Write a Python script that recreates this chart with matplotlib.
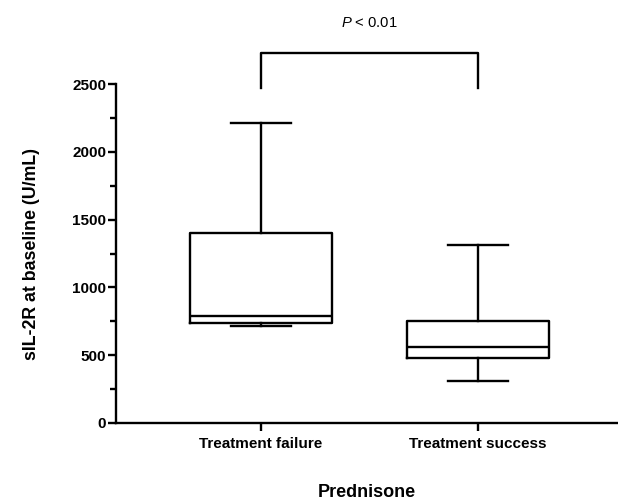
import matplotlib.pyplot as plt
from matplotlib.ticker import MultipleLocator

plt.rcParams['font.family'] = ['Liberation Sans', 'DejaVu Sans']
plt.rcParams['mathtext.fontset'] = 'custom'
plt.rcParams['mathtext.it'] = 'Liberation Sans:italic'
plt.rcParams['mathtext.rm'] = 'Liberation Sans'

groups = ["Treatment failure", "Treatment success"]
whisker_low = [718, 312]
q1 = [735, 479]
median = [789, 562]
q3 = [1398, 752]
whisker_high = [2215, 1310]

stats = []
for i, g in enumerate(groups):
    stats.append({"label": g, "whislo": whisker_low[i], "q1": q1[i], "med": median[i],
                  "q3": q3[i], "whishi": whisker_high[i], "fliers": []})

fig = plt.figure(figsize=(6.18, 5.01), dpi=100)
ax = fig.add_axes([0.1877, 0.1557, 0.8123, 0.6766])

lw = 1.7
ax.bxp(stats, positions=[0, 1], widths=0.655, showfliers=False,
       boxprops=dict(color="black", linewidth=lw),
       medianprops=dict(color="black", linewidth=lw),
       whiskerprops=dict(color="black", linewidth=lw),
       capprops=dict(color="black", linewidth=lw),
       capwidths=0.275)

ax.set_xlim(-0.668, 1.645)
ax.set_ylim(0, 2500)
ax.yaxis.set_major_locator(MultipleLocator(500))
ax.yaxis.set_minor_locator(MultipleLocator(250))
ax.spines[["top", "right"]].set_visible(False)
ax.spines[["left", "bottom"]].set_linewidth(lw)
ax.tick_params(axis="y", which="major", width=lw, length=6, labelsize=11, pad=1)
ax.tick_params(axis="x", which="major", width=lw, length=6, labelsize=11, pad=4)
ax.tick_params(axis="y", which="minor", width=lw, length=4)
for lab in ax.get_xticklabels() + ax.get_yticklabels():
    lab.set_fontweight("bold")

ax.set_ylabel("sIL-2R at baseline (U/mL)", fontsize=12.8, fontweight="bold", labelpad=23)
ax.set_xlabel("Prednisone", fontsize=13, fontweight="bold", labelpad=24)

# significance bracket
ax.plot([0, 0, 1, 1], [2470, 2730, 2730, 2470], color="black", linewidth=lw, clip_on=False)
ax.text(0.5, 2950, r"$\it{P}$ < 0.01", ha="center", va="center", fontsize=10.6)

fig.savefig("out.png", dpi=100)
